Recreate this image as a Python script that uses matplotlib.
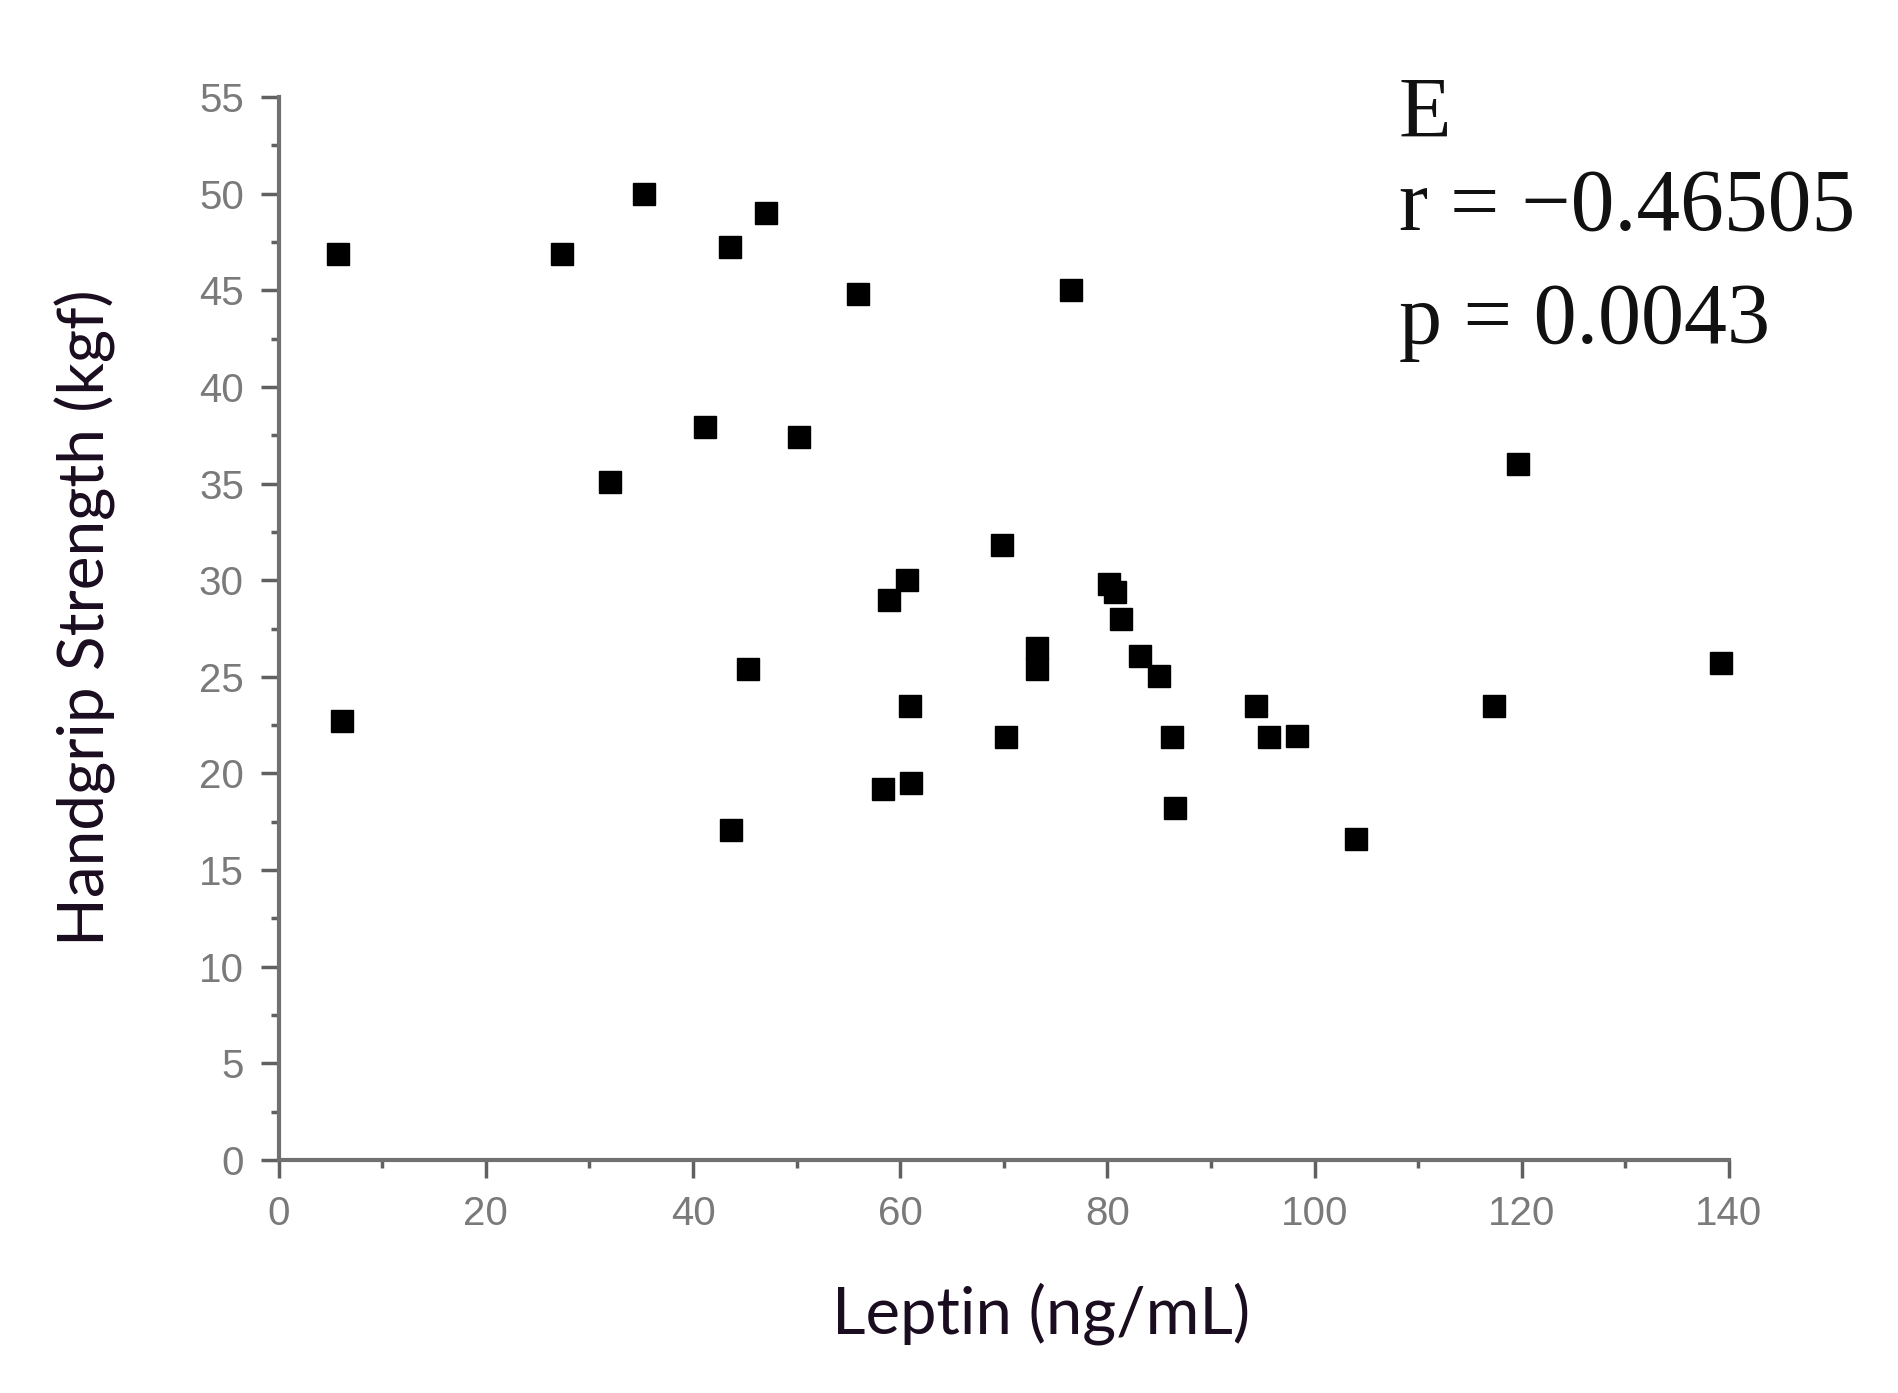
import numpy as np
import matplotlib.pyplot as plt
from matplotlib.ticker import MultipleLocator

# Leptin (ng/mL) vs handgrip strength (kgf)
leptin = [5.7, 6.1, 27.4, 32.0, 35.3, 41.2, 43.6, 43.7, 45.3, 47.0,
          50.2, 55.9, 58.3, 58.9, 60.7, 60.9, 61.0, 69.8, 70.2, 73.2,
          73.2, 76.5, 80.2, 80.7, 81.3, 83.1, 85.0, 86.2, 86.5, 94.3,
          95.6, 98.3, 104.0, 117.3, 119.6, 139.2]
handgrip = [46.9, 22.7, 46.9, 35.1, 50.0, 37.9, 47.25, 17.1, 25.4, 49.0,
            37.4, 44.8, 19.2, 29.0, 30.0, 23.5, 19.5, 31.8, 21.9, 26.5,
            25.4, 45.0, 29.8, 29.4, 28.0, 26.1, 25.05, 21.9, 18.2, 23.5,
            21.9, 21.95, 16.6, 23.5, 36.0, 25.7]

panel = "E"
r_text = "r = \u22120.46505"
p_text = "p = 0.0043"

W, H = 1899, 1393
fig = plt.figure(figsize=(W / 100, H / 100), dpi=100)
ax = fig.add_axes([278.6 / W, 1 - 1160 / H, (1729 - 278.6) / W, (1160 - 97) / H])

ax.plot(leptin, handgrip, 's', color='black', markersize=16, clip_on=False)

ax.set_xlim(0, 140)
ax.set_ylim(0, 55)
ax.xaxis.set_major_locator(MultipleLocator(20))
ax.xaxis.set_minor_locator(MultipleLocator(10))
ax.yaxis.set_major_locator(MultipleLocator(5))
ax.yaxis.set_minor_locator(MultipleLocator(2.5))

for s in ['top', 'right']:
    ax.spines[s].set_visible(False)
for s in ['left', 'bottom']:
    ax.spines[s].set_color('#707070')
    ax.spines[s].set_linewidth(3)

tick_font = ['Liberation Sans', 'DejaVu Sans']
ax.tick_params(which='major', direction='out', length=13, width=2.5,
               color='#606060', labelcolor='#7a7a7a', labelsize=29, pad=12)
ax.tick_params(which='minor', direction='out', length=6, width=2.5, color='#606060')
for lab in ax.get_xticklabels() + ax.get_yticklabels():
    lab.set_family(tick_font)

lab_font = ['Lato', 'DejaVu Sans']
fig.text(85 / W, 1 - 618 / H, "Handgrip Strength (kgf)", rotation=90,
         ha='center', va='center', fontsize=46, color='#1a0d20', family=lab_font)
fig.text(1041 / W, 1 - 1314 / H, "Leptin (ng/mL)", ha='center', va='center',
         fontsize=47, color='#1a0d20', family=lab_font)

serif = ['Liberation Serif', 'DejaVu Serif']
fig.text(1399 / W, 1 - 137 / H, panel, ha='left', va='baseline', fontsize=62,
         color='#111111', family=serif)
fig.text(1399 / W, 1 - 230 / H, r_text, ha='left', va='baseline', fontsize=63,
         color='#111111', family=serif)
fig.text(1399 / W, 1 - 343 / H, p_text, ha='left', va='baseline', fontsize=62,
         color='#111111', family=serif)

fig.savefig('out.png', dpi=100, facecolor='white')
